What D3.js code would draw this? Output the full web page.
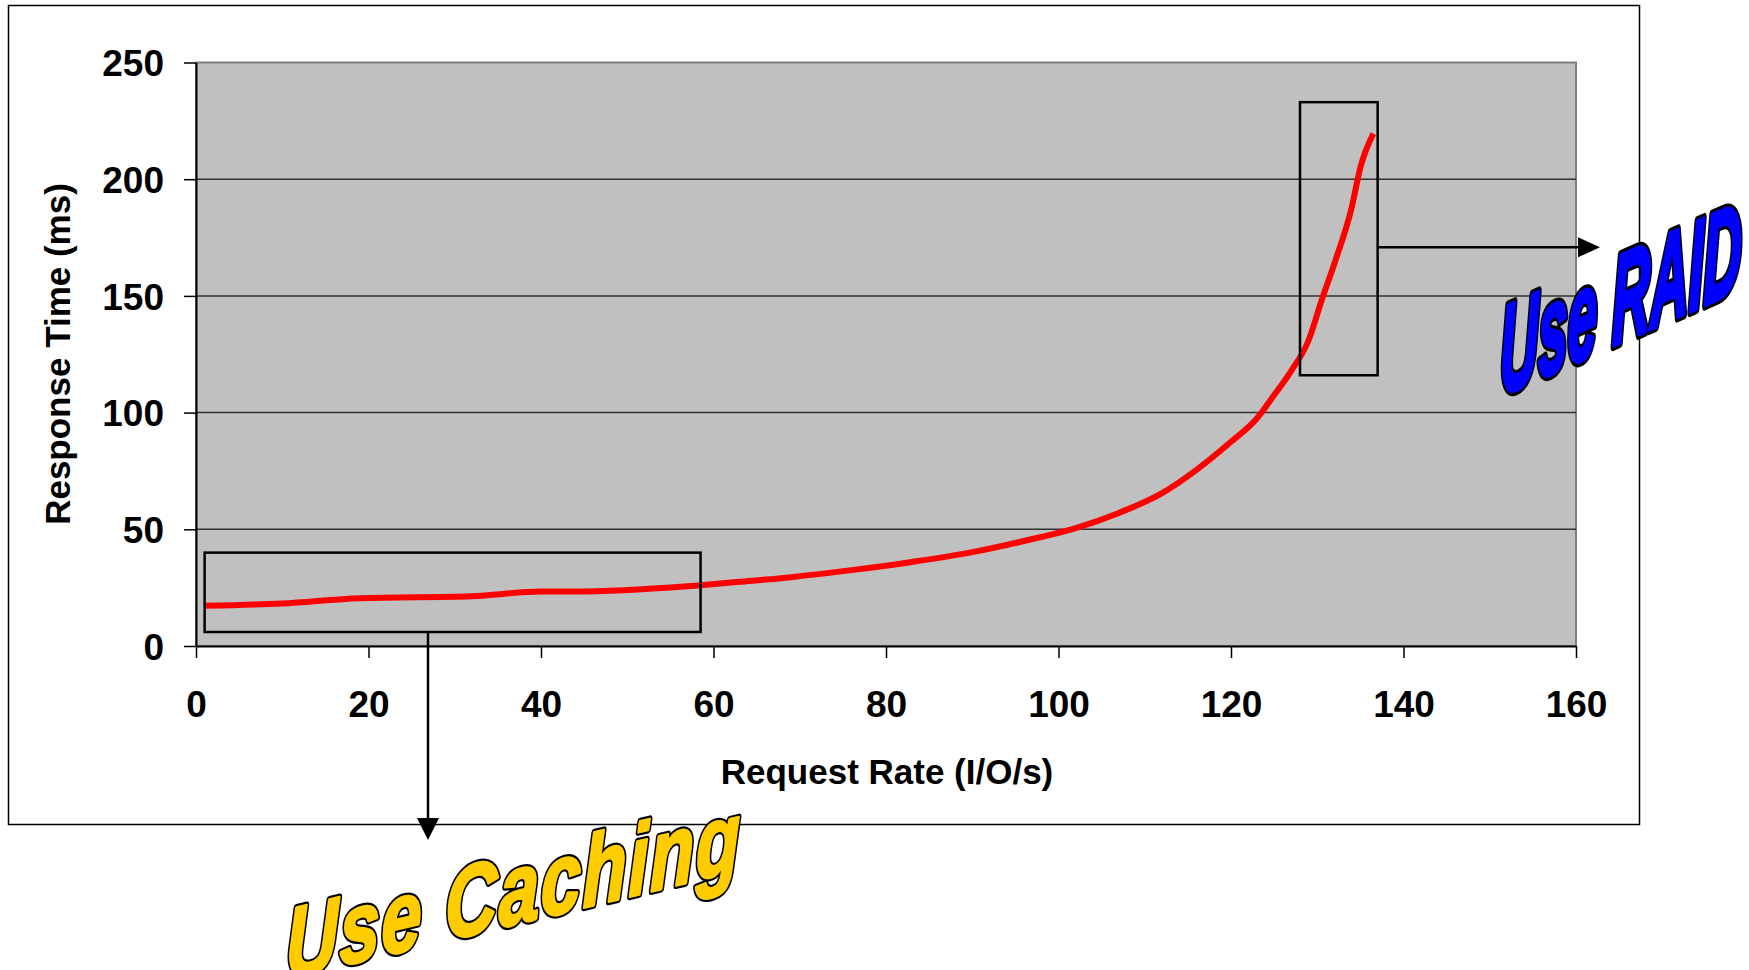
<!DOCTYPE html>
<html>
<head>
<meta charset="utf-8">
<script src="https://cdn.jsdelivr.net/npm/d3@7"></script>
<style>
    body { margin: 0; background: #fff; }
    svg { display: block; font-family: "Liberation Sans", Arial, sans-serif; }
    .tick-label { font-weight: bold; font-size: 37px; fill: #000; }
    .axis-title { font-weight: bold; font-size: 35px; fill: #000; }
    .callout { font-weight: bold; font-style: italic; }
</style>
</head>
<body>
<div id="chart"></div>
<script>
// request rate (I/O/s) vs response time (ms)
const requestRate = [1, 10, 19, 32, 40, 44, 57, 63, 69, 76, 83, 90, 96, 102, 107, 112, 116, 120, 123, 125, 127, 129, 130.5, 132, 134, 135, 136.5];
const responseTime = [17.2, 18.2, 20.5, 21.3, 23.3, 23.3, 25.6, 27.5, 29.5, 32.5, 36, 40.2, 45, 50.5, 57, 65.5, 75.5, 87.5, 97.5, 107.5, 118, 131, 148, 164, 188, 205, 219.5];

const xTicks = [0, 20, 40, 60, 80, 100, 120, 140, 160];
const yTicks = [0, 50, 100, 150, 200, 250];

// highlight boxes in data units: [x0, x1, y0, y1]
const cachingBox = [1, 58.5, 6, 40];
const raidBox = [128, 137, 116, 233];

const margin = {top: 62.5, right: 173, bottom: 324, left: 196};
const containerWidth = 1749;
const containerHeight = 970;
const width = containerWidth - margin.left - margin.right;
const height = containerHeight - margin.top - margin.bottom;

const data = requestRate.map((r, i) => ({rate: r, time: responseTime[i]}));

const svg = d3.select('#chart').append('svg')
    .attr('width', containerWidth)
    .attr('height', containerHeight);

// outer chart frame
svg.append('rect')
    .attr('x', 8.5)
    .attr('y', 5.5)
    .attr('width', 1631)
    .attr('height', 819)
    .attr('fill', '#fff')
    .attr('stroke', '#000')
    .attr('stroke-width', 1.5);

const xScale = d3.scaleLinear().domain([0, 160]).range([0, width]);
const yScale = d3.scaleLinear().domain([0, 250]).range([height, 0]);

const chart = svg.append('g')
    .attr('transform', `translate(${margin.left},${margin.top})`);

chart.append('rect')
    .attr('width', width)
    .attr('height', height)
    .attr('fill', '#c0c0c0')
    .attr('stroke', '#808080')
    .attr('stroke-width', 2);

// gridlines
chart.append('g')
    .selectAll('line')
    .data(yTicks.filter(d => d > 0 && d < 250))
    .join('line')
    .attr('x1', 0)
    .attr('x2', width)
    .attr('y1', d => yScale(d))
    .attr('y2', d => yScale(d))
    .attr('stroke', '#303030')
    .attr('stroke-width', 1.5);

const xAxis = d3.axisBottom(xScale)
    .tickValues(xTicks)
    .tickSize(12)
    .tickSizeOuter(0)
    .tickPadding(33);

const yAxis = d3.axisLeft(yScale)
    .tickValues(yTicks)
    .tickSize(12)
    .tickSizeOuter(0)
    .tickPadding(20);

const xAxisG = chart.append('g')
    .attr('transform', `translate(0,${height})`)
    .call(xAxis);

const yAxisG = chart.append('g')
    .call(yAxis);

[xAxisG, yAxisG].forEach(g => {
    g.select('.domain').attr('stroke', '#000').attr('stroke-width', 2);
    g.selectAll('.tick line').attr('stroke', '#000').attr('stroke-width', 1.5);
    g.selectAll('.tick text')
        .attr('class', 'tick-label')
        .attr('font-family', null)
        .attr('font-size', null);
});
xAxisG.selectAll('.tick text').attr('dy', '0.71em');
yAxisG.selectAll('.tick text').attr('dy', '0.36em');

chart.append('text')
    .attr('class', 'axis-title')
    .attr('x', 887 - margin.left)
    .attr('y', 784 - margin.top)
    .attr('text-anchor', 'middle')
    .text('Request Rate (I/O/s)');

chart.append('text')
    .attr('class', 'axis-title')
    .attr('transform', `translate(${70 - margin.left},${354 - margin.top}) rotate(-90)`)
    .attr('text-anchor', 'middle')
    .text('Response Time (ms)');

// response curve
const line = d3.line()
    .x(d => xScale(d.rate))
    .y(d => yScale(d.time))
    .curve(d3.curveMonotoneX);

chart.append('path')
    .datum(data)
    .attr('d', line)
    .attr('fill', 'none')
    .attr('stroke', '#ff0000')
    .attr('stroke-width', 6)
    .attr('stroke-linejoin', 'round');

// highlight boxes
[cachingBox, raidBox].forEach(b => {
    chart.append('rect')
        .attr('x', xScale(b[0]))
        .attr('y', yScale(b[3]))
        .attr('width', xScale(b[1]) - xScale(b[0]))
        .attr('height', yScale(b[2]) - yScale(b[3]))
        .attr('fill', 'none')
        .attr('stroke', '#000')
        .attr('stroke-width', 2.5);
});

// arrows
const arrowG = svg.append('g');
const cacheX = margin.left + xScale(26.9);
const cacheY0 = margin.top + yScale(cachingBox[2]);
arrowG.append('line')
    .attr('x1', cacheX).attr('x2', cacheX)
    .attr('y1', cacheY0).attr('y2', 822)
    .attr('stroke', '#000').attr('stroke-width', 2.5);
arrowG.append('path')
    .attr('d', `M${cacheX - 11},818 L${cacheX + 11},818 L${cacheX},840 Z`)
    .attr('fill', '#000');

const raidY = margin.top + yScale(170.8);
const raidX0 = margin.left + xScale(raidBox[1]);
arrowG.append('line')
    .attr('x1', raidX0).attr('x2', 1582)
    .attr('y1', raidY).attr('y2', raidY)
    .attr('stroke', '#000').attr('stroke-width', 2.5);
arrowG.append('path')
    .attr('d', `M1578,${raidY - 10} L1578,${raidY + 10} L1600,${raidY} Z`)
    .attr('fill', '#000');

// word-art callouts: black outline underneath, thickened fill on top
function wordArt(label, transform, size, color, spacing) {
    const g = svg.append('g').attr('transform', transform);
    [['#000', '#000', 6], [color, color, 2.5]].forEach(([fill, stroke, sw]) => {
        g.append('text')
            .attr('class', 'callout')
            .attr('font-size', size)
            .attr('letter-spacing', spacing)
            .attr('fill', fill)
            .attr('stroke', stroke)
            .attr('stroke-width', sw)
            .attr('stroke-linejoin', 'round')
            .text(label);
    });
}

wordArt('Use Caching', 'translate(286,979) skewY(-13.5) scale(0.9,1.25)', 80, '#ffcc00', 2);
wordArt('Use RAID', 'translate(1500,396) skewY(-24) scale(0.78,1.85)', 68, '#0000ff', 0);
</script>
</body>
</html>
